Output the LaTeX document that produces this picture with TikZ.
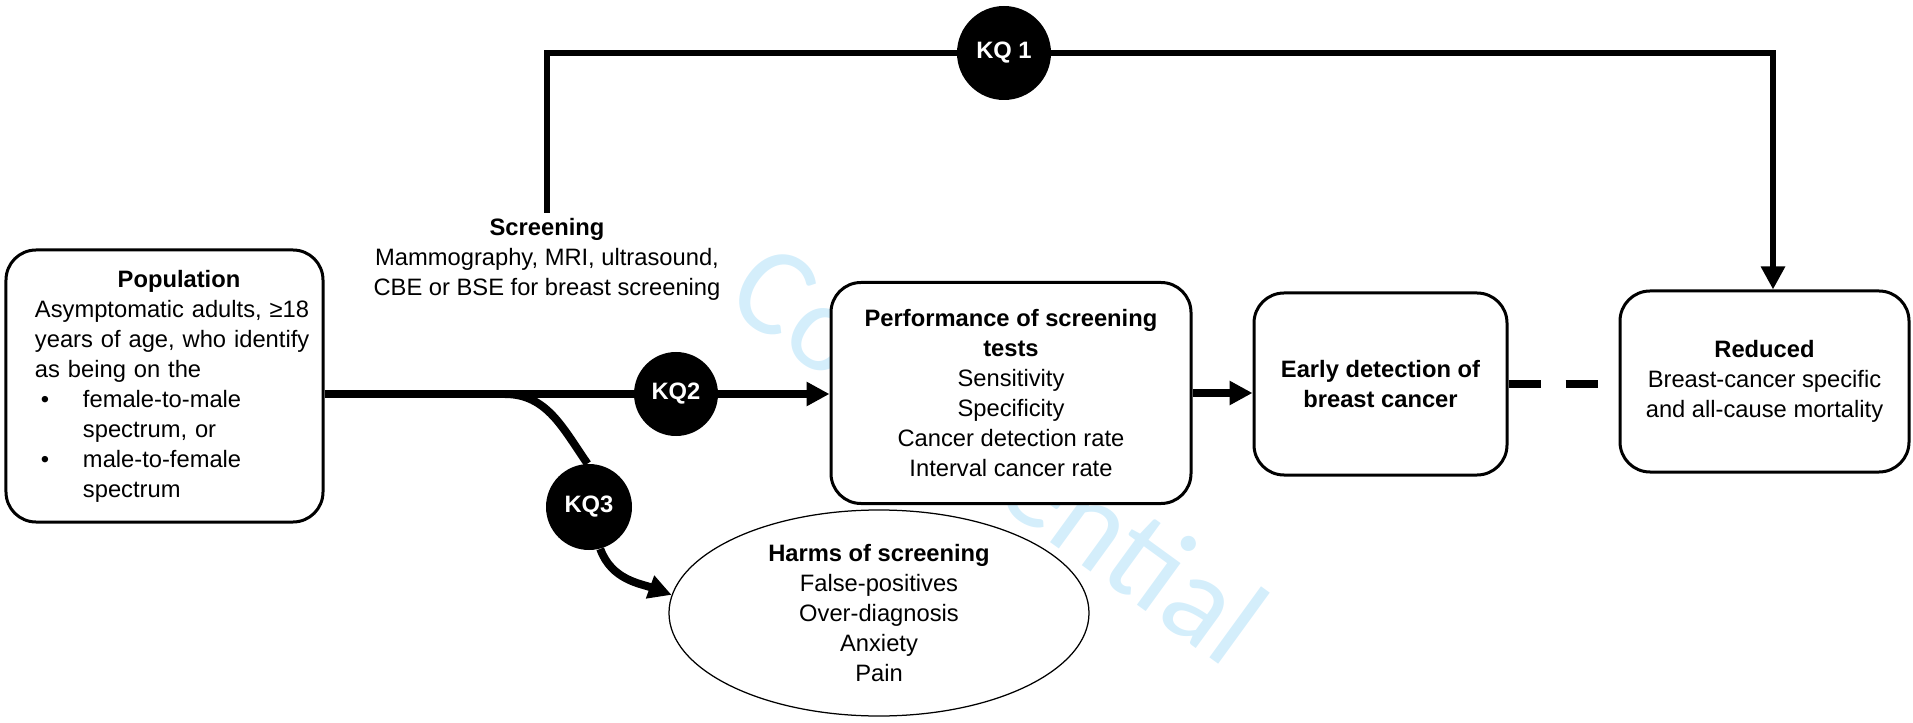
\documentclass[tikz,border=0pt]{standalone}
\usepackage{fontspec}
\setmainfont{Liberation Sans}
\newfontfamily\wmfont{Carlito}
\usetikzlibrary{arrows.meta,shapes.geometric}
\definecolor{wmblue}{RGB}{212,238,251}
\newcommand\blt{\makebox[9.6mm][l]{\hspace{1.2mm}\textbullet}}
\newcommand\bind{\makebox[9.6mm][l]{}}

\begin{document}
\begin{tikzpicture}[x=0.2mm,y=-0.2mm,
                every node/.style={font=\fontsize{13.5}{17.07}\selectfont},
                rbox/.style={draw,line width=0.6mm,rounded corners=6mm,fill=white,align=center,inner sep=0pt},
                kq/.style={circle,fill=black,text=white,inner sep=0pt,font=\fontsize{13.5}{17.07}\selectfont\bfseries},
                mainln/.style={line width=1.6mm},
                kqln/.style={line width=1.2mm},
                tip/.style={-{Triangle[length=4.6mm,width=4.6mm]}}]
                \useasboundingbox (0,0) rectangle (1913,723);
                \node[text=wmblue,font=\wmfont\fontsize{72}{72}\selectfont,rotate=-36] (conf) at (1000,452) {Confidential};

                \node[rbox,align=left,text width=63.4mm,minimum height=54.4mm] (pop) at (164.5,386)
                {{\centering\leftskip=5.8mm plus 1fil\bfseries Population\par}\raggedright\leftskip=5.8mm
                Asymptomatic adults, ≥18\par years of age, who identify\par as being on the\par
                \blt female-to-male\par \bind spectrum, or\par \blt male-to-female\par \bind spectrum\par};
                \node[align=center,inner sep=1mm] (scr) at (547,259)
                {\textbf{Screening}\\Mammography, MRI, ultrasound,\\CBE or BSE for breast screening};
                \node[rbox,minimum width=72mm,minimum height=44.2mm] (perf) at (1011,393)
                {\textbf{Performance of screening}\\\textbf{tests}\\Sensitivity\\Specificity\\Cancer detection rate\\Interval cancer rate};
                \node[rbox,minimum width=50.6mm,minimum height=36.4mm] (early) at (1380.5,384)
                {\textbf{Early detection of}\\\textbf{breast cancer}};
                \node[rbox,minimum width=57.8mm,minimum height=36.2mm] (reduced) at (1764.5,381.5)
                {\textbf{Reduced}\\Breast-cancer specific\\and all-cause mortality};
                \node[ellipse,draw,line width=0.25mm,fill=white,align=center,inner sep=0pt,
                      minimum width=84mm,minimum height=41.2mm] (harms) at (879,613)
                {\textbf{Harms of screening}\\False-positives\\Over-diagnosis\\Anxiety\\Pain};

                \node[kq,minimum size=18.8mm] (kq1) at (1004,53) {KQ 1};
                \node[kq,minimum size=16.8mm] (kq2) at (676,394) {KQ2};
                \node[kq,minimum size=17.2mm] (kq3) at (589,507) {KQ3};
                \coordinate (fork) at (505,394);
                \coordinate (drop) at (1773,53);

                \draw[mainln] (pop.east |- kq2) -- (kq2);
                \draw[mainln,tip] (kq2) -- (kq2 -| perf.west);
                \draw[mainln] (fork) to[out=0,in=125] (kq3.92);
                \draw[mainln,tip] (kq3.-75) to[out=-70,in=160] (harms.175);
                \draw[mainln,tip] (perf.east) -- (perf.east -| early.west);
                \draw[mainln,dash pattern=on 6.4mm off 5mm] (early.east) -- (early.east -| reduced.west);
                \draw[kqln] (scr.north) |- (kq1);
                \draw[kqln,tip] (kq1) -- (drop) -- (drop |- reduced.north);
\end{tikzpicture}
\end{document}
